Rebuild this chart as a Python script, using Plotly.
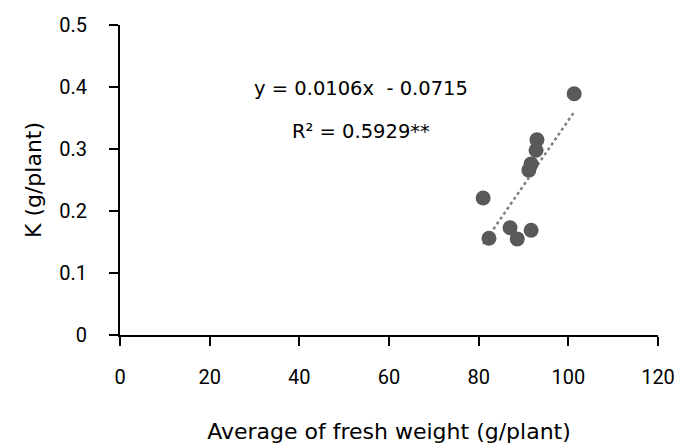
import numpy as np
import plotly.graph_objects as go

fresh_weight = [101.3, 93.0, 92.8, 91.7, 91.2, 81.0, 82.3, 87.0, 88.6, 91.7]
k_content = [0.389, 0.315, 0.298, 0.276, 0.266, 0.221, 0.156, 0.173, 0.155, 0.169]
x_ticks = [0, 20, 40, 60, 80, 100, 120]
y_ticks = [0, 0.1, 0.2, 0.3, 0.4, 0.5]
y_tick_text = ["0", "0.1", "0.2", "0.3", "0.4", "0.5"]
equation_text = "y = 0.0106x  - 0.0715"
r2_text = "R² = 0.5929**"

FONT = "DejaVu Sans, sans-serif"
TICK_FONT = dict(family="Roboto, DejaVu Sans, sans-serif", size=20, color="#000")

slope, intercept = np.polyfit(fresh_weight, k_content, 1)
x_line = np.array([min(fresh_weight), max(fresh_weight)])
y_line = slope * x_line + intercept

fig = go.Figure()
fig.add_trace(go.Scatter(x=x_line, y=y_line, mode="lines",
                         line=dict(color="#7f7f7f", width=2.5, dash="dot"),
                         hoverinfo="skip", showlegend=False))
fig.add_trace(go.Scatter(x=fresh_weight, y=k_content, mode="markers",
                         marker=dict(color="#595959", size=15),
                         showlegend=False))

fig.add_annotation(x=53.8, y=0.398, text=equation_text, showarrow=False,
                   font=dict(family=FONT, size=19.5, color="#000"))
fig.add_annotation(x=53.8, y=0.329, text=r2_text, showarrow=False,
                   font=dict(family=FONT, size=19.5, color="#000"))

fig.update_layout(
    width=680, height=446,
    margin=dict(l=120, r=22, t=25, b=111),
    paper_bgcolor="white", plot_bgcolor="white",
    font=dict(family=FONT, size=18, color="#000"),
)
fig.update_xaxes(range=[0, 120], tickvals=x_ticks, showgrid=False, zeroline=False,
                 automargin=False, tickfont=TICK_FONT,
                 showline=True, linecolor="black", linewidth=2,
                 ticks="outside", ticklen=9, tickwidth=2, tickcolor="black",
                 ticklabelstandoff=14,
                 title=dict(text="Average of fresh weight (g/plant)", standoff=36,
                            font=dict(size=22)))
fig.update_yaxes(range=[0, 0.5], tickvals=y_ticks, ticktext=y_tick_text,
                 showgrid=False, zeroline=False, automargin=False, tickfont=TICK_FONT,
                 showline=True, linecolor="black", linewidth=2,
                 ticks="outside", ticklen=9, tickwidth=2, tickcolor="black",
                 ticklabelstandoff=18,
                 title=dict(text="K (g/plant)", standoff=12, font=dict(size=22)))

fig.write_html("out.html")
